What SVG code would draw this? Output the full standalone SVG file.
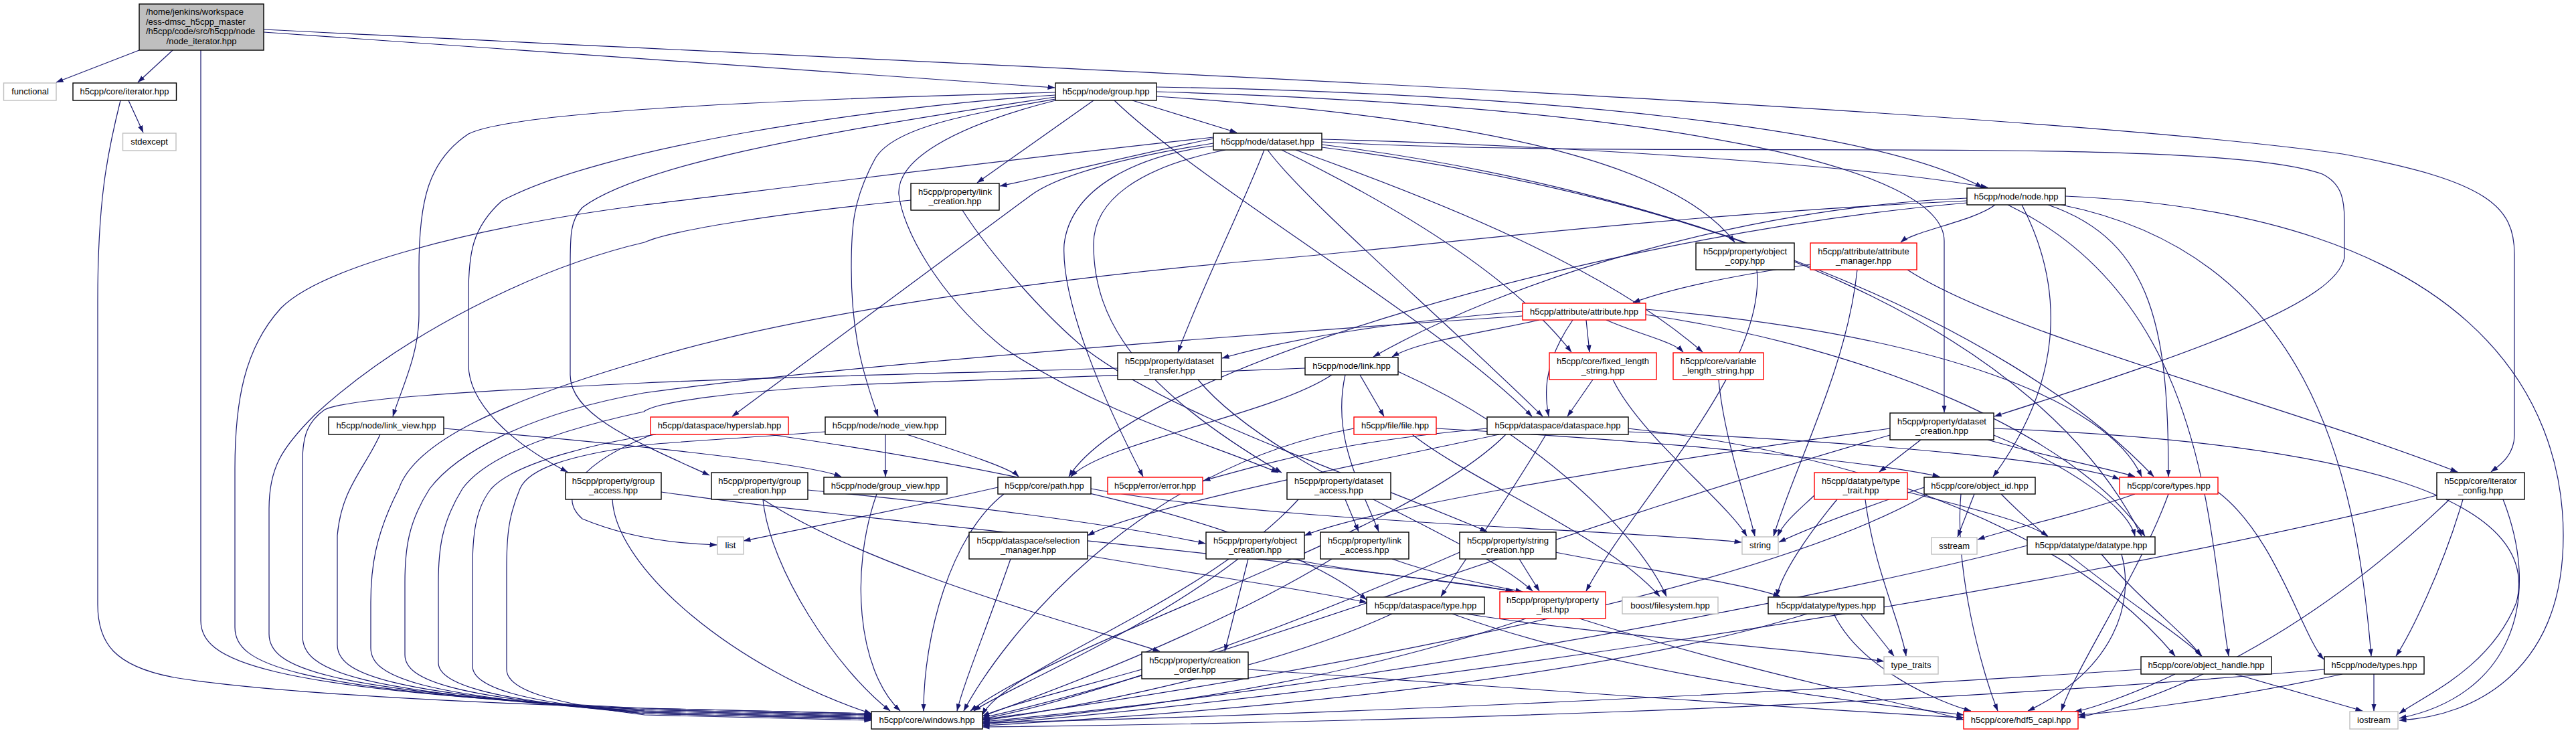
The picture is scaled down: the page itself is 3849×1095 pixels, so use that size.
<svg xmlns="http://www.w3.org/2000/svg" width="3849" height="1095" viewBox="0 0 3849 1095">
<style>
.n rect{fill:#fff;stroke:#000;stroke-width:1.4}
.n.r rect{stroke:#f00}
.n.g rect{stroke:#bfbfbf}
.n.root rect{fill:#bfbfbf}
text{font-family:"Liberation Sans",Arial,Helvetica,sans-serif;font-size:13px;fill:#000;text-anchor:middle}
text.l{text-anchor:start}
.e path{fill:none;stroke:#191970;stroke-width:1.2;marker-end:url(#a)}
</style>
<defs>
<marker id="a" viewBox="0 0 11 8" refX="10.5" refY="4" markerWidth="11" markerHeight="8" markerUnits="userSpaceOnUse" orient="auto"><path d="M0,0.3 L11,4 L0,7.7z" fill="#191970" stroke="none"/></marker>
</defs>
<rect width="3849" height="1095" fill="#fff"/>
<g id="edges" class="e">
<path d="M208,75 L84,123"/>
<path d="M258,75 L206,123"/>
<path d="M394,48 L1576,131"/>
<path d="M394,44 C1500,100 3000,160 3500,230 C3720,270 3757,310 3757,380 L3757,650 C3757,680 3735,695 3722,705"/>
<path d="M192,150 L214,198"/>
<path d="M300,75 L300,927 C300,985 380,1030 963,1058 L1302,1066"/>
<path d="M180,150 C160,230 146,300 146,450 L146,903 C146,960 170,995 260,1012 C400,1035 700,1050 963,1058 L1302,1066"/>
<path d="M1813,205 C1400,250 1100,290 963,306 C700,340 480,400 420,460 C365,520 351,600 351,700 L351,937 C351,990 420,1030 963,1060 L1302,1068"/>
<path d="M1361,299 C1150,320 1000,345 963,362 C800,400 600,500 470,620 C420,670 402,700 402,760 L402,947 C402,995 470,1032 963,1060 L1302,1068"/>
<path d="M1670,550 C1400,558 1100,565 963,572 C700,585 520,595 485,612 C460,630 452,650 452,690 L452,950 C452,1000 520,1035 963,1062 L1302,1070"/>
<path d="M568,649 C545,700 510,730 504,800 L504,963 C504,1005 570,1037 963,1062 L1302,1070"/>
<path d="M2939,300 C2500,320 2100,370 1925,385 C1500,420 1150,480 963,538 C750,600 620,660 596,730 C560,800 554,850 554,900 L554,968 C554,1010 620,1040 963,1064 L1302,1072"/>
<path d="M2275,472 C2000,490 1300,540 962,587 C780,620 680,680 642,730 C610,780 605,820 605,870 L605,978 C605,1015 670,1042 963,1064 L1302,1072"/>
<path d="M1950,550 C1700,560 1400,570 1269,575 C1100,585 980,600 962,615 C800,650 720,690 691,730 C660,780 655,820 655,870 L655,990 C655,1020 720,1045 963,1066 L1302,1074"/>
<path d="M980,649 C900,660 770,690 734,730 C710,760 706,800 706,850 L706,995 C706,1025 770,1048 963,1066 L1302,1074"/>
<path d="M1233,645 C1100,655 980,662 962,665 C850,680 790,700 777,730 C760,770 757,800 757,850 L757,1000 C757,1030 820,1050 963,1068 L1302,1076"/>
<path d="M1577,138 C1100,150 760,170 700,200 C640,240 626,300 626,400 L626,470 C626,530 600,580 587,622"/>
<path d="M1577,142 C1300,160 900,220 750,300 C705,340 700,380 700,440 L700,545 C700,600 760,660 848,705"/>
<path d="M1577,145 C1200,200 950,250 870,310 C852,330 852,350 852,400 L852,560 C852,620 950,660 1060,710"/>
<path d="M1577,148 C1450,170 1330,190 1306,240 C1274,300 1272,340 1272,400 C1272,500 1290,560 1312,622"/>
<path d="M1577,150 C1420,190 1340,240 1343,290 C1348,340 1400,440 1500,520 C1650,620 1800,660 1910,706"/>
<path d="M1692,150 L1848,198"/>
<path d="M1634,150 L1460,273"/>
<path d="M1665,150 C1800,280 2150,480 2289,622"/>
<path d="M1728,130 C2300,140 2800,190 2962,280"/>
<path d="M1728,144 C2200,175 2500,240 2592,362"/>
<path d="M1728,137 C2500,160 2905,250 2905,360 L2905,616"/>
<path d="M1813,207 C1700,230 1580,260 1494,278"/>
<path d="M1813,214 C1680,235 1580,262 1540,292 L1094,622"/>
<path d="M1889,224 C1860,300 1800,420 1760,526"/>
<path d="M1894,224 C1950,300 2150,470 2305,622"/>
<path d="M1915,224 C2050,290 2250,400 2348,526"/>
<path d="M1936,224 C2150,300 2400,400 2544,526"/>
<path d="M1831,224 C1700,250 1634,300 1634,365 C1634,480 1700,580 1915,706"/>
<path d="M1813,218 C1700,232 1600,280 1590,365 C1585,450 1650,600 1708,712"/>
<path d="M1975,208 C2400,220 2800,250 2970,280"/>
<path d="M1975,216 C2500,280 3000,480 3218,712"/>
<path d="M1975,212 C2500,240 3300,200 3470,260 C3500,275 3503,300 3503,330 L3503,385 C3490,450 3300,520 2980,622"/>
<path d="M1975,220 C2600,300 3050,500 3200,801"/>
<path d="M1438,314 C1480,380 1560,470 1620,520 C1750,620 2000,700 2222,794"/>
<path d="M2981,306 C2950,330 2860,345 2840,362"/>
<path d="M3021,306 C3080,420 3090,560 2978,712"/>
<path d="M3060,306 C3220,360 3240,500 3240,712"/>
<path d="M3080,306 C3450,380 3520,700 3543,980"/>
<path d="M2939,296 C2600,310 2250,420 2052,533"/>
<path d="M3086,293 C3700,320 3830,600 3830,800 C3830,1000 3700,1070 3585,1076"/>
<path d="M3000,306 C3300,450 3300,800 3330,980"/>
<path d="M2939,303 C2400,350 1700,550 1597,712"/>
<path d="M2625,403 C2640,550 2440,750 2370,883"/>
<path d="M2705,395 C2600,410 2500,430 2440,452"/>
<path d="M2775,403 C2760,550 2680,700 2650,801"/>
<path d="M2850,403 C3000,500 3400,600 3672,705"/>
<path d="M2300,478 C2200,500 2120,510 2080,533"/>
<path d="M2370,478 L2375,526"/>
<path d="M2400,478 C2450,500 2500,510 2515,526"/>
<path d="M2350,478 C2300,550 2310,600 2314,622"/>
<path d="M2275,465 C2100,480 1950,500 1826,535"/>
<path d="M2459,470 C2800,520 3100,650 3205,801"/>
<path d="M2459,462 C2900,500 3150,600 3200,712"/>
<path d="M2032,560 L2068,622"/>
<path d="M1990,560 C1900,620 1650,660 1600,712"/>
<path d="M2010,560 C1990,650 2030,720 2060,794"/>
<path d="M2089,555 C2300,650 2450,800 2490,891"/>
<path d="M2380,567 L2342,622"/>
<path d="M2410,567 C2450,650 2580,750 2610,801"/>
<path d="M2568,567 C2575,650 2610,750 2622,801"/>
<path d="M1790,567 C1900,700 2200,800 2290,883"/>
<path d="M663,640 C900,660 1200,690 1257,712"/>
<path d="M975,649 C870,690 830,740 870,775 C930,800 1000,812 1071,814"/>
<path d="M1150,649 C1500,700 1900,780 2042,896"/>
<path d="M1323,649 L1323,712"/>
<path d="M1355,649 C1450,680 1510,700 1522,712"/>
<path d="M2146,640 C2500,660 2800,690 2898,712"/>
<path d="M2110,649 C2200,720 2400,800 2480,891"/>
<path d="M2023,640 C1700,700 1500,950 1440,1062"/>
<path d="M2240,649 C2000,700 1700,760 1625,800"/>
<path d="M2310,649 C2250,750 2180,850 2153,891"/>
<path d="M2222,640 C2000,660 1900,690 1798,718"/>
<path d="M2432,640 C2800,680 3100,800 3250,980"/>
<path d="M2250,649 C2100,800 1600,950 1450,1062"/>
<path d="M2432,645 C2800,660 3100,690 3167,716"/>
<path d="M2870,657 L2808,705"/>
<path d="M2824,640 C2400,700 2050,760 1949,800"/>
<path d="M2970,657 C3050,680 3150,700 3190,712"/>
<path d="M2979,650 C3100,700 3180,760 3190,801"/>
<path d="M2824,650 C2300,800 1800,1000 1468,1072"/>
<path d="M2979,640 C3500,660 3800,740 3760,900 C3720,1000 3620,1040 3585,1066"/>
<path d="M915,746 C920,850 1100,1000 1302,1066"/>
<path d="M988,735 C1300,780 1900,830 2260,883"/>
<path d="M1207,732 C1500,760 1700,790 1801,812"/>
<path d="M1140,746 C1300,850 1600,930 1733,973"/>
<path d="M1140,746 C1150,850 1250,1000 1330,1062"/>
<path d="M1310,738 C1270,850 1280,1000 1345,1062"/>
<path d="M1491,728 C1350,760 1200,790 1111,808"/>
<path d="M1630,730 C1900,780 2400,790 2602,810"/>
<path d="M1500,738 C1420,800 1380,950 1380,1062"/>
<path d="M2010,746 L2030,794"/>
<path d="M1940,746 C1800,900 1500,1000 1468,1068"/>
<path d="M2745,746 C2700,800 2660,860 2655,891"/>
<path d="M2787,746 C2800,850 2840,930 2848,980"/>
<path d="M2850,735 C2950,760 3030,780 3060,801"/>
<path d="M2711,740 C2690,760 2665,780 2656,801"/>
<path d="M2950,738 L2925,802"/>
<path d="M2875,728 C2780,760 2700,790 2658,810"/>
<path d="M2990,738 C3100,850 3250,940 3290,980"/>
<path d="M2930,738 C2920,850 2960,1000 2985,1062"/>
<path d="M2880,738 C2600,900 1800,1030 1468,1075"/>
<path d="M3190,738 C3100,770 3000,790 2955,806"/>
<path d="M3240,738 C3200,850 3100,1000 3080,1062"/>
<path d="M3314,735 C3400,800 3440,950 3472,985"/>
<path d="M3680,746 C3650,850 3600,950 3580,980"/>
<path d="M3740,746 C3800,900 3750,1040 3585,1073"/>
<path d="M3660,746 C3500,900 3300,1030 3105,1072"/>
<path d="M3641,740 C3000,900 2000,1040 1468,1082"/>
<path d="M1625,830 C1800,860 1950,880 2042,900"/>
<path d="M1510,835 C1470,950 1440,1020 1430,1062"/>
<path d="M1865,835 L1830,973"/>
<path d="M1930,835 C2050,860 2200,870 2262,884"/>
<path d="M1850,835 C1700,950 1500,1030 1455,1062"/>
<path d="M2080,835 C2150,860 2230,875 2275,884"/>
<path d="M1990,835 C1800,950 1550,1040 1468,1070"/>
<path d="M2270,835 L2300,883"/>
<path d="M2324,825 C2450,850 2600,870 2660,891"/>
<path d="M2181,825 C1900,950 1600,1050 1468,1074"/>
<path d="M3140,828 C3200,900 3270,950 3288,980"/>
<path d="M3170,828 C3190,900 3160,1000 3030,1062"/>
<path d="M3029,815 C2700,900 2000,1030 1468,1078"/>
<path d="M1706,1000 C1600,1030 1500,1055 1468,1070"/>
<path d="M1865,1000 C2300,1030 2700,1060 2934,1072"/>
<path d="M2080,917 C1900,1000 1600,1060 1468,1076"/>
<path d="M2170,917 C2400,1000 2700,1040 2934,1068"/>
<path d="M2190,917 C2400,950 2700,970 2815,988"/>
<path d="M2280,924 C2000,1020 1700,1060 1468,1080"/>
<path d="M2360,924 C2600,1000 2800,1040 2934,1075"/>
<path d="M2780,917 L2830,980"/>
<path d="M2740,917 C2780,1000 2900,1050 2945,1062"/>
<path d="M2700,917 C2400,1010 1900,1060 1468,1084"/>
<path d="M3250,1007 C3180,1040 3120,1060 3100,1063"/>
<path d="M3340,1007 L3530,1062"/>
<path d="M3199,1000 C2600,1040 1900,1070 1468,1080"/>
<path d="M3547,1007 L3547,1062"/>
<path d="M3500,1007 C3300,1050 3150,1065 3105,1068"/>
<path d="M3473,1000 C2800,1060 2000,1080 1468,1086"/>
</g>
<g id="n_root" class="n root"><rect x="208" y="6" width="186" height="69"/><text class="l" x="218" y="22">/home/jenkins/workspace</text><text class="l" x="218" y="36.7">/ess-dmsc_h5cpp_master</text><text class="l" x="218" y="51.3">/h5cpp/code/src/h5cpp/node</text><text x="301" y="66">/node_iterator.hpp</text></g>
<g id="n_functional" class="n g"><rect x="5.5" y="124" width="78.5" height="26"/><text x="45" y="141">functional</text></g>
<g id="n_iterator" class="n"><rect x="109" y="124" width="154.5" height="26"/><text x="186" y="141">h5cpp/core/iterator.hpp</text></g>
<g id="n_stdexcept" class="n g"><rect x="183.5" y="199" width="79.5" height="26"/><text x="223" y="216">stdexcept</text></g>
<g id="n_group" class="n"><rect x="1577" y="124" width="151" height="26"/><text x="1652.5" y="141">h5cpp/node/group.hpp</text></g>
<g id="n_dataset" class="n"><rect x="1813" y="199" width="162" height="25"/><text x="1894" y="216">h5cpp/node/dataset.hpp</text></g>
<g id="n_link_creation" class="n"><rect x="1361" y="274" width="132" height="40"/><text x="1427" y="290.5">h5cpp/property/link</text><text x="1427" y="305">_creation.hpp</text></g>
<g id="n_node" class="n"><rect x="2939" y="281" width="147" height="25"/><text x="3012.5" y="298">h5cpp/node/node.hpp</text></g>
<g id="n_object_copy" class="n"><rect x="2534" y="363" width="147" height="40"/><text x="2607.5" y="379.5">h5cpp/property/object</text><text x="2607.5" y="394">_copy.hpp</text></g>
<g id="n_attribute_manager" class="n r"><rect x="2705" y="363" width="159" height="40"/><text x="2784.5" y="379.5">h5cpp/attribute/attribute</text><text x="2784.5" y="394">_manager.hpp</text></g>
<g id="n_attribute" class="n r"><rect x="2275" y="453" width="184" height="25"/><text x="2367" y="470">h5cpp/attribute/attribute.hpp</text></g>
<g id="n_link" class="n"><rect x="1950" y="534" width="139" height="26"/><text x="2019.5" y="551">h5cpp/node/link.hpp</text></g>
<g id="n_fixed_length_string" class="n r"><rect x="2315" y="527" width="160" height="40"/><text x="2395" y="543.5">h5cpp/core/fixed_length</text><text x="2395" y="558">_string.hpp</text></g>
<g id="n_variable_length_string" class="n r"><rect x="2500" y="527" width="135" height="40"/><text x="2567.5" y="543.5">h5cpp/core/variable</text><text x="2567.5" y="558">_length_string.hpp</text></g>
<g id="n_dataset_transfer" class="n"><rect x="1670" y="527" width="155" height="40"/><text x="1747.5" y="543.5">h5cpp/property/dataset</text><text x="1747.5" y="558">_transfer.hpp</text></g>
<g id="n_link_view" class="n"><rect x="491" y="623" width="172" height="26"/><text x="577" y="640">h5cpp/node/link_view.hpp</text></g>
<g id="n_hyperslab" class="n r"><rect x="972" y="623" width="206" height="26"/><text x="1075" y="640">h5cpp/dataspace/hyperslab.hpp</text></g>
<g id="n_node_view" class="n"><rect x="1233" y="623" width="180" height="26"/><text x="1323" y="640">h5cpp/node/node_view.hpp</text></g>
<g id="n_file" class="n r"><rect x="2023" y="623" width="123" height="26"/><text x="2084.5" y="640">h5cpp/file/file.hpp</text></g>
<g id="n_dataspace" class="n"><rect x="2222" y="623" width="211" height="26"/><text x="2327.5" y="640">h5cpp/dataspace/dataspace.hpp</text></g>
<g id="n_dataset_creation" class="n"><rect x="2824" y="617" width="155" height="40"/><text x="2901.5" y="633.5">h5cpp/property/dataset</text><text x="2901.5" y="648">_creation.hpp</text></g>
<g id="n_group_access" class="n"><rect x="845" y="706" width="143" height="40"/><text x="916.5" y="722.5">h5cpp/property/group</text><text x="916.5" y="737">_access.hpp</text></g>
<g id="n_group_creation" class="n"><rect x="1063" y="706" width="144" height="40"/><text x="1135" y="722.5">h5cpp/property/group</text><text x="1135" y="737">_creation.hpp</text></g>
<g id="n_group_view" class="n"><rect x="1231" y="713" width="184" height="25"/><text x="1323" y="730">h5cpp/node/group_view.hpp</text></g>
<g id="n_path" class="n"><rect x="1491" y="713" width="139" height="25"/><text x="1560.5" y="730">h5cpp/core/path.hpp</text></g>
<g id="n_error" class="n r"><rect x="1655" y="713" width="142" height="25"/><text x="1726" y="730">h5cpp/error/error.hpp</text></g>
<g id="n_dataset_access" class="n"><rect x="1923" y="706" width="155" height="40"/><text x="2000.5" y="722.5">h5cpp/property/dataset</text><text x="2000.5" y="737">_access.hpp</text></g>
<g id="n_type_trait" class="n r"><rect x="2711" y="706" width="139" height="40"/><text x="2780.5" y="722.5">h5cpp/datatype/type</text><text x="2780.5" y="737">_trait.hpp</text></g>
<g id="n_object_id" class="n"><rect x="2875" y="713" width="166" height="25"/><text x="2958" y="730">h5cpp/core/object_id.hpp</text></g>
<g id="n_core_types" class="n r"><rect x="3167" y="713" width="147" height="25"/><text x="3240.5" y="730">h5cpp/core/types.hpp</text></g>
<g id="n_iterator_config" class="n"><rect x="3641" y="706" width="131" height="40"/><text x="3706.5" y="722.5">h5cpp/core/iterator</text><text x="3706.5" y="737">_config.hpp</text></g>
<g id="n_list" class="n g"><rect x="1072" y="802" width="39" height="26"/><text x="1091.5" y="819">list</text></g>
<g id="n_selection_manager" class="n"><rect x="1448" y="795" width="177" height="40"/><text x="1536.5" y="811.5">h5cpp/dataspace/selection</text><text x="1536.5" y="826">_manager.hpp</text></g>
<g id="n_object_creation" class="n"><rect x="1802" y="795" width="147" height="40"/><text x="1875.5" y="811.5">h5cpp/property/object</text><text x="1875.5" y="826">_creation.hpp</text></g>
<g id="n_link_access" class="n"><rect x="1973" y="795" width="132" height="40"/><text x="2039" y="811.5">h5cpp/property/link</text><text x="2039" y="826">_access.hpp</text></g>
<g id="n_string_creation" class="n"><rect x="2181" y="795" width="144" height="40"/><text x="2253" y="811.5">h5cpp/property/string</text><text x="2253" y="826">_creation.hpp</text></g>
<g id="n_string" class="n g"><rect x="2603" y="802" width="54" height="26"/><text x="2630" y="819">string</text></g>
<g id="n_sstream" class="n g"><rect x="2886" y="803" width="68" height="25"/><text x="2920" y="820">sstream</text></g>
<g id="n_datatype" class="n"><rect x="3029" y="802" width="191" height="26"/><text x="3124.5" y="819">h5cpp/datatype/datatype.hpp</text></g>
<g id="n_creation_order" class="n"><rect x="1706" y="974" width="159" height="40"/><text x="1785.5" y="990.5">h5cpp/property/creation</text><text x="1785.5" y="1005">_order.hpp</text></g>
<g id="n_dataspace_type" class="n"><rect x="2042" y="892" width="176" height="25"/><text x="2130" y="909">h5cpp/dataspace/type.hpp</text></g>
<g id="n_property_list" class="n r"><rect x="2241" y="884" width="158" height="40"/><text x="2320" y="900.5">h5cpp/property/property</text><text x="2320" y="915">_list.hpp</text></g>
<g id="n_boost_filesystem" class="n g"><rect x="2424" y="892" width="143" height="25"/><text x="2495.5" y="909">boost/filesystem.hpp</text></g>
<g id="n_datatype_types" class="n"><rect x="2642" y="892" width="173" height="25"/><text x="2728.5" y="909">h5cpp/datatype/types.hpp</text></g>
<g id="n_type_traits" class="n g"><rect x="2815" y="981" width="81" height="26"/><text x="2855.5" y="998">type_traits</text></g>
<g id="n_object_handle" class="n"><rect x="3199" y="981" width="195" height="26"/><text x="3296.5" y="998">h5cpp/core/object_handle.hpp</text></g>
<g id="n_node_types" class="n"><rect x="3473" y="981" width="149" height="26"/><text x="3547.5" y="998">h5cpp/node/types.hpp</text></g>
<g id="n_windows" class="n"><rect x="1302" y="1063" width="166" height="26"/><text x="1385" y="1080">h5cpp/core/windows.hpp</text></g>
<g id="n_hdf5_capi" class="n r"><rect x="2934" y="1063" width="171" height="26"/><text x="3019.5" y="1080">h5cpp/core/hdf5_capi.hpp</text></g>
<g id="n_iostream" class="n g"><rect x="3511" y="1063" width="72" height="26"/><text x="3547" y="1080">iostream</text></g>
</svg>
